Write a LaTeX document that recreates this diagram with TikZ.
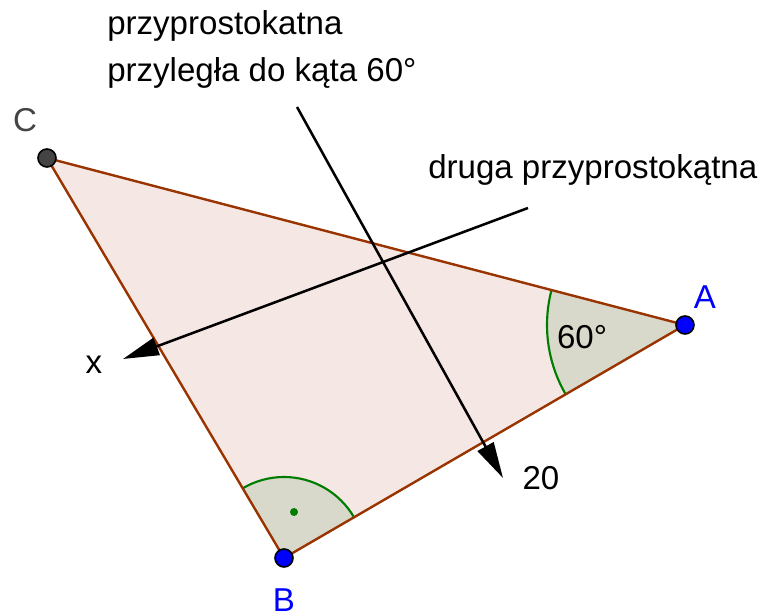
\documentclass[tikz,border=0pt]{standalone}
\usepackage{fontspec}
\setmainfont{Liberation Sans}
\usetikzlibrary{arrows.meta}
\definecolor{edgebrown}{HTML}{993300}
\definecolor{trifill}{HTML}{F5E7E3}
\definecolor{angfill}{HTML}{D9D9CB}
\definecolor{anggreen}{HTML}{007D00}
\definecolor{ptblue}{HTML}{0000FF}
\definecolor{ptgrey}{HTML}{444444}
\definecolor{lblgrey}{HTML}{444444}
\tikzset{
  lbl/.style={inner sep=0pt, font=\fontsize{24.8}{30}\selectfont},
  edge/.style={draw=edgebrown, line width=1.8pt, line join=round},
  angarc/.style={draw=anggreen, line width=1.6pt},
  pointer/.style={draw=black, line width=1.9pt, -{Triangle[length=27pt,width=13.5pt]}},
  pt/.style={circle, draw=black, line width=1.2pt, minimum size=13.5pt, inner sep=0pt},
}
\begin{document}
\begin{tikzpicture}[x=0.75pt,y=0.75pt]
\useasboundingbox (0,0) rectangle (765,616);
% points
\coordinate (C) at (47,458);
\coordinate (A) at (685,291);
\coordinate (B) at (284,58);
\coordinate (P1s) at (297,509);
\coordinate (P1e) at (503,138);
\coordinate (P2s) at (528,408);
\coordinate (P2e) at (123,257);
% triangle fill
\fill[trifill] (A) -- (B) -- (C) -- cycle;
% angle sectors
\fill[angfill] (A) -- ++(165.33:138) arc[start angle=165.33, end angle=210.16, radius=138] -- cycle;
\fill[angfill] (B) -- ++(30.16:81) arc[start angle=30.16, end angle=120.65, radius=81] -- cycle;
\draw[angarc] (A) ++(165.33:138) arc[start angle=165.33, end angle=210.16, radius=138];
\draw[angarc] (B) ++(30.16:81) arc[start angle=30.16, end angle=120.65, radius=81];
\fill[anggreen] (294,104) circle[radius=4];
% triangle edges
\draw[edge] (A) -- (B) -- (C) -- cycle;
% pointers
\draw[pointer] (P1s) -- (P1e);
\draw[pointer] (P2s) -- (P2e);
% vertices
\node[pt, fill=ptgrey] (nC) at (C) {};
\node[pt, fill=ptblue] (nA) at (A) {};
\node[pt, fill=ptblue] (nB) at (B) {};
% labels
\node[lbl, text=lblgrey] (lC) at (25,496) {C};
\node[lbl, text=ptblue] (lA) at (705,319) {A};
\node[lbl, text=ptblue] (lB) at (284,16) {B};
\node[lbl] (lx) at (94,251) {x};
\node[lbl] (l20) at (541,138) {20};
\node[lbl] (l60) at (582,279) {60°};
\node[lbl, anchor=base west] (t1) at (107,581) {przyprostokatna};
\node[lbl, anchor=base west] (t2) at (107,534) {przyległa do kąta 60°};
\node[lbl, anchor=base west] (t3) at (428,437) {druga przyprostokątna};
\end{tikzpicture}
\end{document}
